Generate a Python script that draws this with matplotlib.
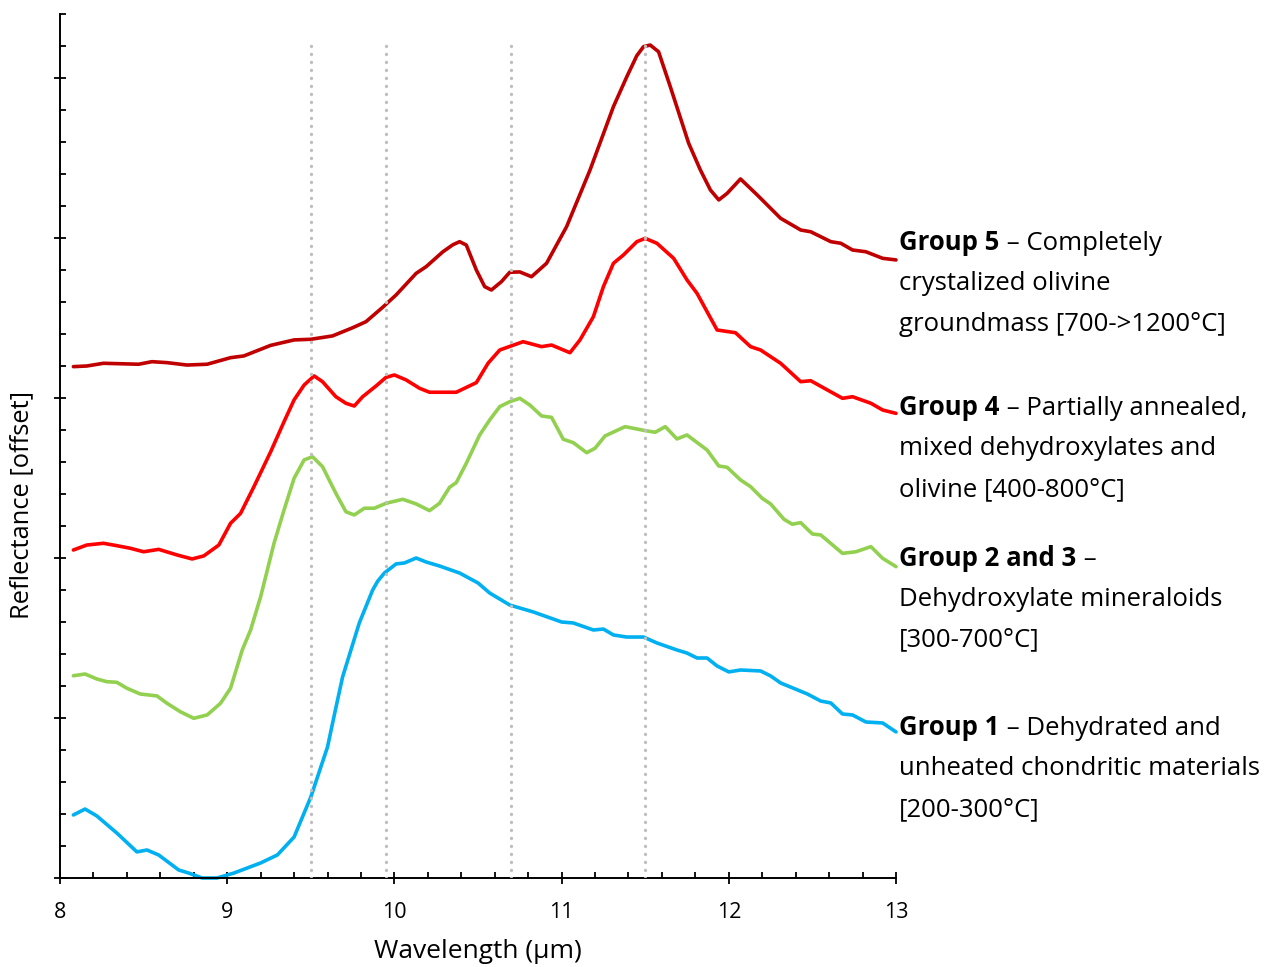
import matplotlib.pyplot as plt
from matplotlib.ticker import MultipleLocator

plt.rcParams['font.family'] = ['Open Sans', 'DejaVu Sans']

# Offset reflectance spectra, wavelength in micrometres
g1_wl = [8.08, 8.15, 8.22, 8.34, 8.46, 8.52, 8.59, 8.71, 8.77, 8.85, 8.94, 9.04, 9.20, 9.30, 9.40,
         9.50, 9.60, 9.645, 9.69, 9.79, 9.87, 9.90, 9.94, 10.01, 10.06, 10.13, 10.19,
         10.27, 10.39, 10.50, 10.57,
         10.69, 10.83, 11.00, 11.07, 11.19, 11.25, 11.31, 11.39, 11.49, 11.57, 11.69, 11.75, 11.81,
         11.87, 11.93, 12.00, 12.07, 12.19, 12.25, 12.31, 12.47, 12.55, 12.61, 12.68, 12.74, 12.82,
         12.92, 13.00]
g1_refl = [0.394, 0.431, 0.388, 0.281, 0.163, 0.175, 0.144, 0.050, 0.031, 0.0, 0.0, 0.031, 0.094,
           0.144, 0.256, 0.506, 0.819, 1.040, 1.256, 1.594, 1.800, 1.855, 1.906, 1.963,
           1.969, 2.000, 1.975, 1.950,
           1.906, 1.844, 1.781, 1.706, 1.663, 1.600, 1.594, 1.550, 1.556, 1.519, 1.506, 1.506, 1.469,
           1.425, 1.406, 1.375, 1.375, 1.325, 1.288, 1.300, 1.294, 1.263, 1.219, 1.150, 1.106, 1.094,
           1.025, 1.019, 0.975, 0.969, 0.913]

g23_wl = [8.08, 8.15, 8.22, 8.28, 8.34, 8.40, 8.48, 8.58, 8.64, 8.72, 8.80, 8.88, 8.96, 9.02, 9.09,
          9.14, 9.20, 9.28, 9.34, 9.40, 9.46, 9.51, 9.57, 9.65, 9.71, 9.76, 9.82, 9.88, 9.95, 10.05,
          10.13, 10.21, 10.27, 10.33, 10.37, 10.43, 10.51, 10.57, 10.63, 10.69, 10.75, 10.81, 10.88,
          10.94, 11.01, 11.07, 11.15, 11.20, 11.26, 11.38, 11.50, 11.56, 11.62, 11.69, 11.75, 11.87,
          11.94, 11.99, 12.07, 12.13, 12.20, 12.25, 12.33, 12.38, 12.43, 12.50, 12.55, 12.68, 12.76,
          12.85, 12.92, 13.00]
g23_refl = [1.264, 1.275, 1.244, 1.227, 1.223, 1.186, 1.150, 1.138, 1.092, 1.039, 0.998, 1.019, 1.092,
            1.186, 1.425, 1.550, 1.758, 2.092, 2.300, 2.498, 2.613, 2.633, 2.571, 2.404, 2.289, 2.269,
            2.311, 2.311, 2.342, 2.367, 2.338, 2.296, 2.342, 2.442, 2.471, 2.592, 2.769, 2.863, 2.946,
            2.977, 2.998, 2.956, 2.888, 2.879, 2.742, 2.721, 2.658, 2.686, 2.763, 2.821, 2.796, 2.786,
            2.821, 2.744, 2.769, 2.675, 2.575, 2.567, 2.488, 2.446, 2.373, 2.338, 2.242, 2.211, 2.221,
            2.150, 2.144, 2.029, 2.039, 2.071, 1.998, 1.946]

g4_wl = [8.08, 8.16, 8.26, 8.34, 8.42, 8.50, 8.59, 8.70, 8.79, 8.86, 8.95, 9.02, 9.08, 9.16, 9.26,
         9.34, 9.40, 9.46, 9.52, 9.57, 9.65, 9.71, 9.76, 9.81, 9.89, 9.95, 10.00, 10.07, 10.15, 10.21,
         10.37, 10.49, 10.56, 10.63, 10.77, 10.88, 10.94, 11.05, 11.11, 11.19, 11.25, 11.31, 11.37,
         11.45, 11.50, 11.57, 11.67, 11.75, 11.81, 11.93, 12.04, 12.13, 12.19, 12.31, 12.43, 12.49,
         12.59, 12.68, 12.74, 12.85, 12.92, 13.00]
g4_refl = [2.050, 2.081, 2.092, 2.077, 2.061, 2.039, 2.054, 2.019, 1.994, 2.013, 2.081, 2.217, 2.279,
           2.446, 2.664, 2.852, 2.988, 3.081, 3.138, 3.102, 3.008, 2.967, 2.950, 3.008, 3.075, 3.129,
           3.144, 3.113, 3.061, 3.036, 3.036, 3.096, 3.217, 3.300, 3.352, 3.321, 3.331, 3.283, 3.363,
           3.508, 3.696, 3.842, 3.894, 3.977, 3.998, 3.967, 3.873, 3.738, 3.654, 3.425, 3.408, 3.321,
           3.300, 3.217, 3.102, 3.108, 3.050, 2.998, 3.008, 2.967, 2.925, 2.904]

g5_wl = [8.08, 8.16, 8.26, 8.40, 8.47, 8.55, 8.64, 8.76, 8.88, 9.02, 9.10, 9.26, 9.40, 9.50, 9.63,
         9.75, 9.83, 9.93, 10.01, 10.13, 10.19, 10.29, 10.35, 10.39, 10.43, 10.49, 10.54, 10.58, 10.64,
         10.69, 10.75, 10.82, 10.91, 11.03, 11.17, 11.31, 11.39, 11.45, 11.49, 11.53, 11.58, 11.65, 11.76,
         11.83, 11.89, 11.94, 11.99, 12.07, 12.17, 12.31, 12.43, 12.49, 12.61, 12.67, 12.74, 12.82,
         12.92, 13.00]
g5_refl = [3.196, 3.200, 3.217, 3.213, 3.211, 3.227, 3.221, 3.206, 3.211, 3.252, 3.263, 3.329, 3.363,
           3.367, 3.388, 3.439, 3.477, 3.567, 3.644, 3.779, 3.821, 3.914, 3.958, 3.977, 3.956, 3.800,
           3.696, 3.675, 3.727, 3.786, 3.788, 3.758, 3.842, 4.071, 4.425, 4.821, 5.008, 5.140, 5.196,
           5.206, 5.164, 4.946, 4.592, 4.425, 4.300, 4.238, 4.279, 4.369, 4.269, 4.123, 4.050, 4.039,
           3.977, 3.967, 3.925, 3.914, 3.873, 3.863]

# band positions marked with dotted lines
band_wl = [9.5, 9.95, 10.7, 11.5]

series = [
    (g1_wl, g1_refl, '#00B0F0'),
    (g23_wl, g23_refl, '#92D050'),
    (g4_wl, g4_refl, '#FF0000'),
    (g5_wl, g5_refl, '#C00000'),
]

# (bold head, rest of first line, following lines, first-line centre in data y)
labels = [
    ('Group 5', ' \u2013 Completely', ['crystalized olivine', 'groundmass [700->1200\u00b0C]'], 3.97),
    ('Group 4', ' \u2013 Partially annealed,', ['mixed dehydroxylates and', 'olivine [400-800\u00b0C]'], 2.94),
    ('Group 2 and 3', ' \u2013', ['Dehydroxylate mineraloids', '[300-700\u00b0C]'], 2.00),
    ('Group 1', ' \u2013 Dehydrated and', ['unheated chondritic materials', '[200-300\u00b0C]'], 0.94),
]

fig = plt.figure(figsize=(12.69, 9.67), dpi=100)
ax = fig.add_axes([60 / 1269, 89 / 967, 836 / 1269, 864 / 967])

for wl, refl, col in series:
    ax.plot(wl, refl, color=col, lw=2.6, solid_joinstyle='round', solid_capstyle='round',
            zorder=2, clip_on=False)

for b in band_wl:
    ax.plot([b, b], [0, 5.22], color='#BFBFBF', lw=2.4, linestyle=(0, (0.05, 2.35)),
            dash_capstyle='round', zorder=3)

ax.set_xlim(8, 13)
ax.set_ylim(0, 5.4)
ax.xaxis.set_major_locator(MultipleLocator(1))
ax.xaxis.set_minor_locator(MultipleLocator(0.2))
ax.yaxis.set_major_locator(MultipleLocator(1))
ax.yaxis.set_minor_locator(MultipleLocator(0.2))
ax.set_yticklabels([])
ax.tick_params(which='major', direction='inout', length=8, width=1.3, labelsize=15.5, pad=13)
ax.tick_params(which='minor', direction='in', length=4, width=1.3)
ax.spines['top'].set_visible(False)
ax.spines['right'].set_visible(False)
for s in ('left', 'bottom'):
    ax.spines[s].set_linewidth(1.4)

ax.set_xlabel('Wavelength (\u00b5m)', fontsize=19, labelpad=12)
fig.text(22 / 1269, 1 - 505 / 967, 'Reflectance [offset]', rotation=90, fontsize=18.4,
         ha='center', va='center')

line_gap = 41 / 160
for head, rest, more, y0 in labels:
    t = ax.text(13.02, y0, head, fontsize=18.5, fontweight='bold', ha='left', va='center',
                clip_on=False)
    ax.annotate(rest, xy=(1, 0), xycoords=t, ha='left', va='bottom', fontsize=18.5)
    for i, line in enumerate(more, start=1):
        ax.text(13.02, y0 - i * line_gap, line, fontsize=18.5, ha='left', va='center',
                clip_on=False)

fig.savefig('out.png', dpi=100)
